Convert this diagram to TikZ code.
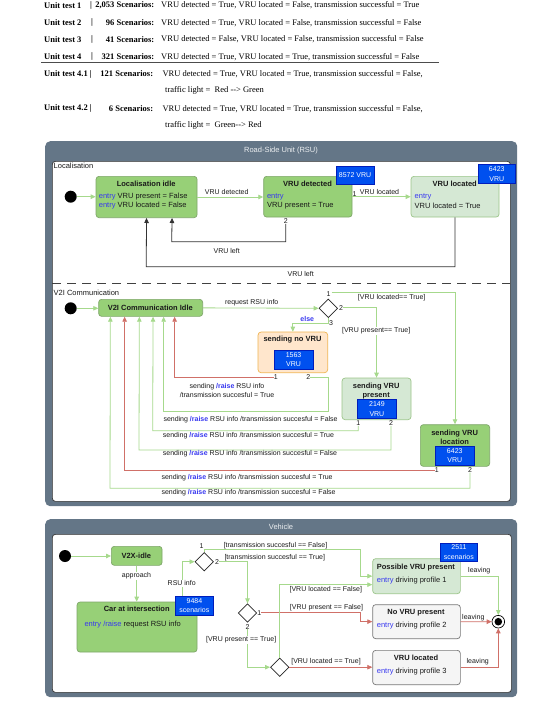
\documentclass[tikz,border=0pt]{standalone}
\usepackage{fontspec}
\setmainfont{Liberation Serif}
\newfontfamily\dsans{Liberation Sans}
\usetikzlibrary{arrows.meta,shapes.geometric}
\definecolor{slate}{HTML}{647687}
\definecolor{gfill}{HTML}{97D077}
\definecolor{gstroke}{HTML}{7FA66A}
\definecolor{lgfill}{HTML}{D5E8D4}
\definecolor{lgstroke}{HTML}{9CC58A}
\definecolor{ofill}{HTML}{FFE6CC}
\definecolor{ostroke}{HTML}{F0B552}
\definecolor{grfill}{HTML}{F5F5F5}
\definecolor{grstroke}{HTML}{777777}
\definecolor{bfill}{HTML}{0050EF}
\definecolor{bstroke}{HTML}{001DBC}
\definecolor{lgreen}{HTML}{A6D98C}
\definecolor{lred}{HTML}{D07068}
\definecolor{kwblue}{HTML}{3838F0}
\definecolor{dtext}{HTML}{1A1A1A}
\newcommand\ekw[1]{\textcolor{kwblue}{#1}}
\newcommand\rkw[1]{\textcolor{kwblue}{\bfseries #1}}
\tikzset{
 every node/.style={inner sep=0pt},
 tl/.style={anchor=west, font=\rmfamily\fontsize{8.5}{10}\selectfont},
 tb/.style={anchor=west, font=\rmfamily\bfseries\fontsize{8.5}{10}\selectfont},
 cont/.style={fill=slate, rounded corners=5pt, anchor=north west},
 panel/.style={fill=white, draw=black!80, line width=0.7pt, rounded corners=3pt, anchor=north west},
 ctitle/.style={font=\dsans\fontsize{7.5}{9}\selectfont, text=white!88!slate},
 sbox/.style={rounded corners=3pt, line width=0.7pt, anchor=north west},
 gbox/.style={sbox, fill=gfill, draw=gstroke},
 lgbox/.style={sbox, fill=lgfill, draw=lgstroke},
 obox/.style={sbox, fill=ofill, draw=ostroke},
 grbox/.style={sbox, fill=grfill, draw=grstroke},
 badge/.style={anchor=north west, fill=bfill, draw=bstroke, line width=0.5pt, text=white, align=center, font=\dsans\fontsize{7}{9.3}\selectfont},
 ttl/.style={text=dtext, font=\dsans\bfseries\fontsize{7.5}{8.6}\selectfont},
 txt/.style={text=dtext, anchor=west, font=\dsans\fontsize{7.5}{9}\selectfont},
 lab/.style={text=dtext, font=\dsans\fontsize{7}{9}\selectfont},
 wlab/.style={lab, fill=white, inner sep=1pt},
 dia/.style={diamond, draw=black!85, line width=0.7pt, fill=white, minimum width=18.6pt, minimum height=18.6pt, inner sep=0pt},
 initc/.style={circle, fill=black, minimum size=12pt},
 glink/.style={draw=lgreen, line width=0.8pt, -{Triangle[length=5pt,width=4.5pt]}},
 rlink/.style={draw=lred, line width=0.8pt, -{Triangle[length=5pt,width=4.5pt]}},
 klink/.style={draw=black!80, line width=0.8pt, -{Triangle[length=5pt,width=4.5pt]}},
 dashline/.style={draw=black!75, line width=0.8pt, dash pattern=on 9pt off 6pt},
}
\begin{document}
\begin{tikzpicture}[x=1pt,y=-1pt]
\useasboundingbox (0,0) rectangle (556,706);
% ---------- top text ----------
\node[tb] (t1a) at (44,5.5) {Unit test 1};
\node[tb,anchor=center] (t1b) at (91,5.5) {|};
\node[tb,anchor=east] (t1c) at (154.5,5.5) {2,053 Scenarios:};
\node[tl] (t1d) at (161,5.5) {VRU detected = True, VRU located = False, transmission successful = True};
\node[tb] (t2a) at (44,22.7) {Unit test 2};
\node[tb,anchor=center] (t2b) at (92,22.7) {|};
\node[tb,anchor=east] (t2c) at (154.5,22.7) {96 Scenarios:};
\node[tl] (t2d) at (161,22.7) {VRU detected = True, VRU located = False, transmission successful = False};
\node[tb] (t3a) at (44,39.3) {Unit test 3};
\node[tb,anchor=center] (t3b) at (92,39.3) {|};
\node[tb,anchor=east] (t3c) at (154.5,39.3) {41 Scenarios:};
\node[tl] (t3d) at (161,39.3) {VRU detected = False, VRU located = False, transmission successful = False};
\node[tb] (t4a) at (44,56.7) {Unit test 4};
\node[tb,anchor=center] (t4b) at (92,56.7) {|};
\node[tb,anchor=east] (t4c) at (154.5,56.7) {321 Scenarios:};
\node[tl] (t4d) at (161,56.7) {VRU detected = True, VRU located = True, transmission successful = False};
\draw[line width=0.8pt, black!70] (41,62.7) -- (439,62.7);
\node[tb] (t5a) at (44,74) {Unit test 4.1 |};
\node[tb,anchor=east] (t5c) at (153.3,74) {121 Scenarios:};
\node[tl] (t5d) at (162.3,74) {VRU detected = True, VRU located = True, transmission successful = False,};
\node[tl] (t5e) at (165,90.8) {traffic light =\ \ Red -\kern0pt-> Green};
\node[tb] (t6a) at (44,108.7) {Unit test 4.2 |};
\node[tb,anchor=east] (t6c) at (153.3,108.7) {6 Scenarios:};
\node[tl] (t6d) at (162.3,108.7) {VRU detected = True, VRU located = True, transmission successful = False,};
\node[tl] (t6e) at (165,125.7) {traffic light =\ \ Green-\kern0pt-> Red};
% ---------- RSU container ----------
\node[cont, minimum width=472pt, minimum height=365pt] (rsu) at (45,141) {};
\node[panel, minimum width=458pt, minimum height=340pt] (rsuin) at (52,161) {};
\node[ctitle] (rsut) at (281,150.5) {Road-Side Unit (RSU)};
\node[txt] (loclab) at (53.5,166) {Localisation};
% localisation
\node[initc] (i1) at (70.7,196.7) {};
\node[gbox, minimum width=101pt, minimum height=41.3pt] (li) at (95.7,176) {};
\node[ttl] (lit) at (146.2,184.3) {Localisation idle};
\node[txt] (li1) at (98.7,196.3) {\ekw{entry} VRU present = False};
\node[txt] (li2) at (98.7,205.7) {\ekw{entry} VRU located = False};
\node[gbox, minimum width=88.4pt, minimum height=40.7pt] (vd) at (263.3,176) {};
\node[ttl] (vdt) at (307.5,184) {VRU detected};
\node[txt] (vd1) at (266.8,196.7) {\ekw{entry}};
\node[txt] (vd2) at (266.8,205.7) {VRU present = True};
\node[badge, minimum width=38.3pt, minimum height=18.6pt] (b1) at (335.7,165.7) {8572 VRU};
\node[lgbox, minimum width=88pt, minimum height=40.7pt] (vl) at (410.7,176) {};
\node[ttl] (vlt) at (454.7,184) {VRU located};
\node[txt] (vl1) at (414.5,196.7) {\ekw{entry}};
\node[txt] (vl2) at (414.5,205.7) {VRU located = True};
\node[badge, minimum width=37.6pt, minimum height=19pt] (b2) at (477.7,164.3) {6423\\VRU};
\draw[glink] (i1) -- (i1 -| li.west);
\draw[glink] (li.east) -- (li.east -| vd.west);
\node[lab] (lvd) at (226.7,191.7) {VRU detected};
\draw[glink] (vd.east) -- (vd.east -| vl.west);
\node[lab] (n1) at (354.5,193.8) {1};
\node[lab] (lvl) at (379.5,191.7) {VRU located};
\node[lab] (n2) at (285.7,221.3) {2};
\draw[klink] (n2.south) |- (171.7,241.7) -- ([xshift=25.5pt]li.south);
\node[lab] (vleft1) at (226.7,251) {VRU left};
\draw[klink] (vl.south) |- (146.2,266.7) -- (li.south);
\node[lab] (vleft2) at (300.7,274) {VRU left};
\draw[dashline] (52,283) -- (510,283);
% V2I
\node[txt] (v2ilab) at (53.5,292.7) {V2I Communication};
\node[initc] (i2) at (70.7,308.3) {};
\node[gbox, minimum width=104pt, minimum height=17pt] (vi) at (98.3,299) {};
\node[ttl] (vit) at (150.3,307.5) {V2I Communication Idle};
\draw[glink] (i2) -- (i2 -| vi.west);
\node[dia] (d1) at (328.3,308.3) {};
\draw[glink] (vi.east) -- (d1.west);
\node[lab] (rri) at (251.7,302.7) {request RSU info};
\node[lab] (d1n1) at (328.5,294) {1};
\node[lab] (d1n2) at (341,307.7) {2};
\node[lab] (d1n3) at (331,322.7) {3};
\node[obox, minimum width=69.6pt, minimum height=40.6pt] (snv) at (257.7,331.7) {};
\node[ttl] (snvt) at (292.5,340) {sending no VRU};
\node[badge, minimum width=38.7pt, minimum height=19.3pt] (b3) at (274,350) {1563\\VRU};
\node[lab] (snv1) at (275.7,377.3) {1};
\node[lab] (snv2) at (308.3,377.3) {2};
\node[lgbox, minimum width=69pt, minimum height=41.6pt] (svp) at (341.7,377.7) {};
\node[ttl, align=center] (svpt) at (376.2,391) {sending VRU\\present};
\node[badge, minimum width=38.7pt, minimum height=19pt] (b4) at (357.3,399.3) {2149\\VRU};
\node[lab] (svp1) at (358.3,423.3) {1};
\node[lab] (svp2) at (391,423.3) {2};
\node[gbox, minimum width=69.3pt, minimum height=41.7pt] (svl) at (420,424.3) {};
\node[ttl, align=center] (svlt) at (454.65,437.5) {sending VRU\\location};
\node[badge, minimum width=39pt, minimum height=19pt] (b5) at (435,446) {6423\\VRU};
\node[lab] (svl1) at (436.7,470) {1};
\node[lab] (svl2) at (470,470) {2};
\coordinate (d1o1) at (331.5,292.3);
\draw[glink] (d1o1) -| (svl.north);
\node[lab] (llt1) at (391.7,297.7) {[VRU located== True]};
\draw[glink] (d1n2.east) -| (svp.north);
\node[wlab] (lvp) at (376.2,331) {[VRU present== True]};
\draw[glink] (d1.south) -- ++(0,5.6) -| (snv.north);
\node[lab, text=kwblue, font=\dsans\bfseries\fontsize{7}{9}\selectfont] (else) at (307.3,319) {else};
% return lines
\draw[rlink] (snv1.west) -| ([xshift=24pt]vi.south);
\node[lab, align=center] (la) at (227,390.5) {sending \rkw{/raise} RSU info\\/transmission succesful = True};
\draw[glink] (snv2.east) -| (328.3,411.7) -| ([xshift=13pt]vi.south);
\node[lab, anchor=west] (lb) at (163.3,419.3) {sending \rkw{/raise} RSU info /transmission succesful = False};
\draw[glink] (svp1.south) |- (152.7,430.7) -- ([xshift=2.4pt]vi.south);
\node[lab, anchor=west] (lc) at (162.7,436) {sending \rkw{/raise} RSU info /transmission succesful = True};
\draw[glink] (svp2.south) |- (139,450) -- ([xshift=-11.3pt]vi.south);
\node[lab, anchor=west] (ld) at (162.7,454) {sending \rkw{/raise} RSU info /transmission succesful = False};
\draw[rlink] (svl1.west) -| ([xshift=-26pt]vi.south);
\node[lab, anchor=west] (le) at (161.3,477.3) {sending \rkw{/raise} RSU info /transmission succesful = True};
\draw[glink] (svl2.south) |- (110,488.3) -- ([xshift=-40.3pt]vi.south);
\node[lab, anchor=west] (lf) at (161.3,492.7) {sending \rkw{/raise} RSU info /transmission succesful = False};
% ---------- Vehicle container ----------
\node[cont, minimum width=472pt, minimum height=178pt] (veh) at (45,519) {};
\node[panel, minimum width=459pt, minimum height=158pt] (vehin) at (52,534) {};
\node[ctitle] (veht) at (281,527.3) {Vehicle};
\node[initc] (i3) at (65,556) {};
\node[gbox, minimum width=50.7pt, minimum height=19pt] (vx) at (111,546) {};
\node[ttl] (vxt) at (136.35,555.5) {V2X-idle};
\draw[glink] (i3) -- (i3 -| vx.west);
\node[gbox, minimum width=120pt, minimum height=50pt] (car) at (76.7,601.7) {};
\node[ttl] (cart) at (136.7,609.3) {Car at intersection};
\node[txt] (car1) at (84.3,625) {\ekw{entry /raise} request RSU info};
\draw[glink] (vx.south) -- (vx.south |- car.north);
\node[wlab] (appr) at (136.5,576) {approach};
\node[dia] (dA) at (204.2,561.7) {};
\draw[glink] ([xshift=45pt]car.north) |- (dA.west);
\node[wlab] (rsui) at (181.7,583.3) {RSU info};
\node[badge, minimum width=38.3pt, minimum height=19.3pt] (b6) at (175,595.7) {9484\\scenarios};
\node[lab] (dA1) at (201.5,546.5) {1};
\node[lab] (dA2) at (217,561.7) {2};
\node[dia] (dB) at (247.5,613) {};
\node[lab] (dB1) at (259.3,612.7) {1};
\node[lab] (dB2) at (247.5,626.7) {2};
\node[dia] (dC) at (279.7,667.2) {};
\node[lgbox, minimum width=87.7pt, minimum height=35pt] (pvp) at (372.3,558.3) {};
\node[ttl, anchor=west] (pvpt) at (376.7,567.3) {Possible VRU present};
\node[txt] (pvp1) at (376.7,580.7) {\ekw{entry} driving profile 1};
\node[badge, minimum width=37.3pt, minimum height=18.3pt] (b7) at (440,542.7) {2511\\scenarios};
\node[grbox, minimum width=87.7pt, minimum height=34pt] (nvp) at (372.3,604.3) {};
\node[ttl] (nvpt) at (416,612.7) {No VRU present};
\node[txt] (nvp1) at (376.7,626) {\ekw{entry} driving profile 2};
\node[grbox, minimum width=87.7pt, minimum height=34.3pt] (vlv) at (372.3,650) {};
\node[ttl] (vlvt) at (416,658.3) {VRU located};
\node[txt] (vlv1) at (376.7,671.7) {\ekw{entry} driving profile 3};
\node[circle, draw=black, line width=0.7pt, fill=white, minimum size=12.6pt] (fin) at (498.3,621.7) {};
\node[circle, fill=black, minimum size=7.6pt] (fini) at (498.3,621.7) {};
\draw[glink] (dA.north) |- (360,549.3) |- (pvp.west);
\node[lab] (ltf) at (275.5,545.7) {[transmission succesful == False]};
\draw[glink] (dA2.east) -| (dB.north);
\node[lab, anchor=west] (ltt) at (224.3,557.7) {[transmission succesful == True]};
\draw[rlink] (dB1.east) -- (360,612.7) |- (nvp.west);
\node[lab] (lpf) at (326.5,607.7) {[VRU present == False]};
\draw[glink] (dB2.south) |- (dC.west);
\node[wlab] (lpt) at (241.2,640) {[VRU present == True]};
\draw[glink] (dC.north) |- ([yshift=-8.5pt]pvp.west);
\node[lab] (llf) at (325.8,590) {[VRU located == False]};
\draw[rlink] (dC.east) -- (dC.east -| vlv.west);
\node[lab] (llt) at (326,661.7) {[VRU located == True]};
\draw[glink] (pvp.east) -| (fin.north);
\draw[rlink] (nvp.east) -- (fin.west);
\draw[rlink] (vlv.east) -| (fin.south);
\node[lab] (lv1) at (479.3,571) {leaving};
\node[lab] (lv2) at (473.3,617.3) {leaving};
\node[lab] (lv3) at (477.7,661.7) {leaving};
\end{tikzpicture}
\end{document}
